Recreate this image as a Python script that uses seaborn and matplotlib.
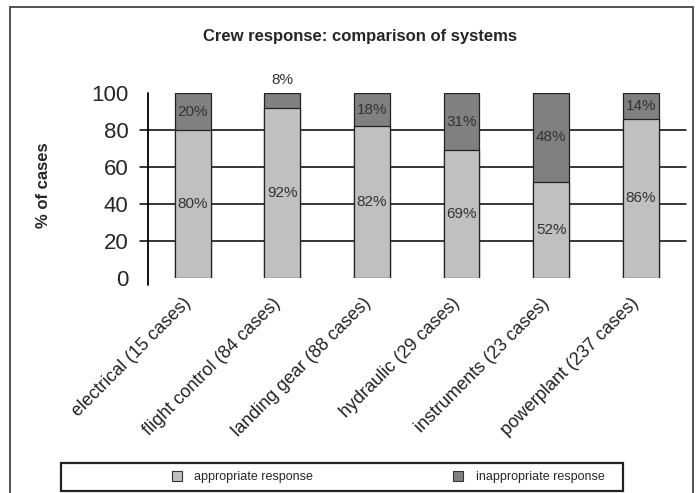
import matplotlib
matplotlib.use("Agg")
import matplotlib.pyplot as plt
import matplotlib.transforms as mtransforms
import pandas as pd
import seaborn as sns
from matplotlib.patches import Patch, Rectangle

# values
systems = [
    "electrical (15 cases)",
    "flight control (84 cases)",
    "landing gear (88 cases)",
    "hydraulic (29 cases)",
    "instruments (23 cases)",
    "powerplant (237 cases)",
]
appropriate = [80, 92, 82, 69, 52, 86]
inappropriate = [20, 8, 18, 31, 48, 14]
legend_labels = ["appropriate response", "inappropriate response"]
yticks = [0, 20, 40, 60, 80, 100]

LIGHT = "#c0c0c0"
DARK = "#808080"

df = pd.DataFrame({"system": systems, "appropriate": appropriate, "inappropriate": inappropriate})
df["total"] = df["appropriate"] + df["inappropriate"]

sns.set_style("white")
plt.rcParams["font.family"] = ["Liberation Sans", "DejaVu Sans"]

fig = plt.figure(figsize=(6.96, 4.93), dpi=100)
ax = fig.add_axes([148 / 696, 215 / 493, 537.5 / 696, 185 / 493])

# stacked bars: draw totals in dark, then the lower part in light on top
sns.barplot(data=df, x="system", y="total", color=DARK, width=0.4, ax=ax,
            edgecolor="#222222", linewidth=0.9, saturation=1, zorder=3)
sns.barplot(data=df, x="system", y="appropriate", color=LIGHT, width=0.4, ax=ax,
            edgecolor="#222222", linewidth=0.9, saturation=1, zorder=3)

ax.set_xlim(-0.5, 5.5)
ax.set_ylim(0, 100)
for s in ax.spines.values():
    s.set_visible(False)

# gridlines that also act as the y tick marks
for y in yticks[1:-1]:
    ax.axhline(y, xmin=-8 / 537.5, xmax=1, color="black", lw=1.1, zorder=1, clip_on=False)
ax.axvline(-0.5, ymin=-7 / 185, ymax=1, color="black", lw=1.3, clip_on=False, zorder=4)

ax.set_yticks(yticks)
ax.tick_params(axis="y", length=0, pad=14, labelsize=16)
ax.set_ylabel("% of cases", fontsize=12, fontweight="bold", labelpad=29)

ax.set_xlabel("")
ax.tick_params(axis="x", which="major", length=0, pad=12)
ax.set_xticks(range(len(systems)))
ax.set_xticklabels(systems, rotation=45, ha="right", va="top", rotation_mode="anchor",
                   fontsize=13, color="#222222")
shift = mtransforms.ScaledTranslation(-10 / 100, 0, fig.dpi_scale_trans)
for lbl in ax.get_xticklabels():
    lbl.set_transform(lbl.get_transform() + shift)
ax.set_xticks([1.5, 2.5, 4.5], minor=True)
ax.tick_params(axis="x", which="minor", length=5, width=1.2, color="black", direction="out")

# percentage labels
for i, (a, b) in enumerate(zip(appropriate, inappropriate)):
    ax.text(i, a / 2, f"{a}%", ha="center", va="center", fontsize=11, color="#333333", zorder=5)
    if b < 10:
        ax.text(i, a + b + 3, f"{b}%", ha="center", va="bottom", fontsize=11, color="#333333",
                zorder=5, clip_on=False)
    else:
        ax.text(i, a + b / 2, f"{b}%", ha="center", va="center", fontsize=11, color="#333333", zorder=5)

fig.text(360 / 696, 1 - 36 / 493, "Crew response: comparison of systems", ha="center", va="center",
         fontsize=12, fontweight="bold")

# outer chart frame and legend box
fig.add_artist(Rectangle((10 / 696, -0.1), 683 / 696, 1 - 7 / 493 + 0.1, transform=fig.transFigure,
                         fill=False, edgecolor="#444444", lw=1.3))
fig.add_artist(Rectangle((61 / 696, 2 / 493), 562 / 696, 28 / 493, transform=fig.transFigure,
                         fill=False, edgecolor="#222222", lw=1.6))

handles = [Patch(facecolor=LIGHT, edgecolor="#333333", lw=0.8),
           Patch(facecolor=DARK, edgecolor="#333333", lw=0.8)]
fig.legend(handles, legend_labels, ncol=2, loc="center", bbox_to_anchor=(388 / 696, 16 / 493),
           frameon=False, fontsize=9, handlelength=0.8, handleheight=0.8, handletextpad=1.0,
           columnspacing=11.2)

fig.savefig("out.png", dpi=100)
